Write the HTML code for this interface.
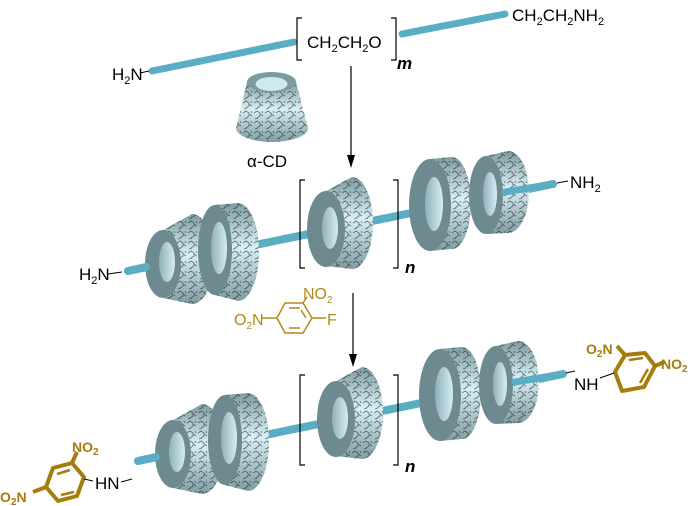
<!DOCTYPE html>
<html><head><meta charset="utf-8"><style>
html,body{margin:0;padding:0;background:#fff}
svg{display:block}
text{font-family:"Liberation Sans",sans-serif}
</style></head><body>
<svg width="696" height="506" viewBox="0 0 696 506" xmlns="http://www.w3.org/2000/svg">
<defs>
<linearGradient id="bd" x1="0" y1="0" x2="0" y2="1">
<stop offset="0" stop-color="#7d9ba2"/><stop offset="0.45" stop-color="#d8f0f6"/><stop offset="1" stop-color="#7f9ca3"/>
</linearGradient>
<linearGradient id="hl" x1="0" y1="0" x2="1" y2="0">
<stop offset="0" stop-color="#8fb0b7"/><stop offset="1" stop-color="#d5eef4"/>
</linearGradient>
<pattern id="tx" width="11" height="10" patternUnits="userSpaceOnUse">
<path d="M1 3 l3 -2 l3 2 l0 3 l-3 2 M7 4 l3 2 M2 9 l3 -1 M9 1 l1 2" fill="none" stroke="#111" stroke-width="0.8"/>
</pattern>
</defs>

<g stroke="#5aaec4" stroke-width="7" stroke-linecap="round" stroke-dasharray="9 2" fill="none">
<line x1="152" y1="71" x2="294" y2="42"/>
<line x1="402" y1="34" x2="505" y2="14"/>
</g>
<text x="112" y="80" font-size="17">H<tspan font-size="11" dy="4">2</tspan><tspan dy="-4">N</tspan></text>
<line x1="140" y1="73" x2="149" y2="71" stroke="#000"/>
<path d="M302 18 h-5 v42 h5 M391 18 h5 v42 h-5" fill="none" stroke="#000" stroke-width="1.2"/>
<text x="307" y="48" font-size="17">CH<tspan font-size="11" dy="4">2</tspan><tspan dy="-4">CH</tspan><tspan font-size="11" dy="4">2</tspan><tspan dy="-4">O</tspan></text>
<text x="397" y="69" font-size="17" font-weight="bold" font-style="italic">m</text>
<text x="512" y="21" font-size="17">CH<tspan font-size="11" dy="4">2</tspan><tspan dy="-4">CH</tspan><tspan font-size="11" dy="4">2</tspan><tspan dy="-4">NH</tspan><tspan font-size="11" dy="4">2</tspan></text>

<path d="M247 82 L236 128 A36 14 0 0 0 308 128 L296 82 Z" fill="url(#bd)"/>
<path d="M247 82 L236 128 A36 14 0 0 0 308 128 L296 82 Z" fill="url(#tx)" opacity="0.55"/>
<ellipse cx="271.5" cy="82" rx="24.5" ry="10" fill="#7c9aa1"/>
<ellipse cx="271.5" cy="84" rx="16" ry="7" fill="#cfe9ef"/>
<text x="247" y="167" font-size="17">α-CD</text>

<line x1="351" y1="66" x2="351" y2="158" stroke="#000" stroke-width="1.2"/>
<path d="M347 155 L351 168 L355 155 Z" fill="#000"/>
<line x1="353" y1="293" x2="353" y2="357" stroke="#000" stroke-width="1.2"/>
<path d="M349 354 L353 367 L357 354 Z" fill="#000"/>

<g stroke="#b38a16" stroke-width="1.5" fill="none">
<path d="M285 303 L303 303 L312 318 L303 333 L285 333 L277 318 Z"/>
<path d="M289 308 L300 308 M300 328 L289 328 M306 318 L301 310"/>
<line x1="303" y1="303" x2="307" y2="297"/>
<line x1="277" y1="318" x2="262" y2="318"/>
<line x1="312" y1="318" x2="326" y2="318"/>
</g>
<g fill="#b38a16" font-size="16">
<text x="303" y="299">NO<tspan font-size="10" dy="4">2</tspan></text>
<text x="234" y="325">O<tspan font-size="10" dy="4">2</tspan><tspan dy="-4">N</tspan></text>
<text x="327" y="325">F</text>
</g>

<g id="chain">
<line x1="128" y1="271" x2="553" y2="184" stroke="#5aaec4" stroke-width="8" stroke-linecap="round" stroke-dasharray="10 2"/>
<g>
<path d="M163 230 L192 214 A22 45 0 0 1 192 304 L163 298 Z" fill="url(#bd)"/>
<path d="M163 230 L192 214 A22 45 0 0 1 192 304 L163 298 Z" fill="url(#tx)" opacity="0.55"/>
<ellipse cx="163" cy="264" rx="18" ry="34" fill="#6d8a90"/>
<ellipse cx="167" cy="262" rx="8" ry="20" fill="url(#hl)"/>
</g>
<g>
<path d="M215 205 L238 203 A21 49 0 0 1 238 301 L215 295 Z" fill="url(#bd)"/>
<path d="M215 205 L238 203 A21 49 0 0 1 238 301 L215 295 Z" fill="url(#tx)" opacity="0.55"/>
<ellipse cx="215" cy="250" rx="17" ry="45" fill="#6d8a90"/>
<ellipse cx="219" cy="248" rx="8" ry="26" fill="url(#hl)"/>
</g>
<g>
<path d="M326 191 L352 177 A21 46 0 0 1 352 269 L326 266 Z" fill="url(#bd)"/>
<path d="M326 191 L352 177 A21 46 0 0 1 352 269 L326 266 Z" fill="url(#tx)" opacity="0.55"/>
<ellipse cx="326" cy="229" rx="19" ry="38" fill="#6d8a90"/>
<ellipse cx="330" cy="228" rx="8" ry="21" fill="url(#hl)"/>
</g>
<g>
<path d="M430 159 L452 157 A19 46 0 0 1 452 249 L430 251 Z" fill="url(#bd)"/>
<path d="M430 159 L452 157 A19 46 0 0 1 452 249 L430 251 Z" fill="url(#tx)" opacity="0.55"/>
<ellipse cx="430" cy="205" rx="21" ry="46" fill="#6d8a90"/>
<ellipse cx="434" cy="204" rx="9" ry="27" fill="url(#hl)"/>
</g>
<g>
<path d="M486 156 L508 151 A21 41 0 0 1 508 233 L486 234 Z" fill="url(#bd)"/>
<path d="M486 156 L508 151 A21 41 0 0 1 508 233 L486 234 Z" fill="url(#tx)" opacity="0.55"/>
<ellipse cx="486" cy="195" rx="17" ry="39" fill="#6d8a90"/>
<ellipse cx="490" cy="194" rx="7" ry="22" fill="url(#hl)"/>
</g>
<line x1="505" y1="192" x2="553" y2="184" stroke="#5aaec4" stroke-width="7" stroke-linecap="round" stroke-dasharray="10 2"/>
<line x1="128" y1="271" x2="146" y2="267" stroke="#5aaec4" stroke-width="8" stroke-linecap="round"/>
</g>
<path d="M305 180 h-5 v88 h5 M393 180 h5 v88 h-5" fill="none" stroke="#000" stroke-width="1.2"/>
<text x="405" y="273" font-size="17" font-weight="bold" font-style="italic">n</text>
<text x="79" y="280" font-size="17">H<tspan font-size="11" dy="4">2</tspan><tspan dy="-4">N</tspan></text>
<line x1="108" y1="274" x2="122" y2="272" stroke="#000"/>
<line x1="557" y1="183" x2="568" y2="181" stroke="#000"/>
<text x="570" y="188" font-size="17">NH<tspan font-size="11" dy="4">2</tspan></text>

<use href="#chain" transform="translate(10,190)"/>
<path d="M305 375 h-5 v90 h5 M393 375 h5 v90 h-5" fill="none" stroke="#000" stroke-width="1.2"/>
<text x="405" y="472" font-size="17" font-weight="bold" font-style="italic">n</text>
<text x="95" y="489" font-size="17">HN</text>
<line x1="121" y1="482" x2="132" y2="479" stroke="#000"/>
<line x1="566" y1="373" x2="575" y2="371" stroke="#000"/>
<text x="574" y="390" font-size="17">NH</text>

<g stroke="#a67c0c" stroke-width="4" fill="none" stroke-linejoin="round">
<path d="M53 468 L72 463 L84 477 L77 496 L58 501 L46 487 Z"/>
<path d="M57 474 L70 470 M74 492 L61 495" stroke-width="2.5"/>
<line x1="72" y1="463" x2="77" y2="452"/>
<line x1="46" y1="487" x2="33" y2="492"/>
<path d="M615 372 L625 355 L645 353 L655 366 L644 387 L622 391 Z"/>
<path d="M629 360 L643 358 M648 369 L640 383" stroke-width="2.5"/>
<line x1="625" y1="355" x2="617" y2="346"/>
<line x1="655" y1="366" x2="664" y2="362"/>
</g>
<line x1="84" y1="479" x2="93" y2="481" stroke="#000"/>
<line x1="600" y1="378" x2="614" y2="373" stroke="#000"/>
<g fill="#a67c0c" font-size="14" font-weight="bold">
<text x="72" y="452">NO<tspan font-size="10" dy="3">2</tspan></text>
<text x="0" y="502">O<tspan font-size="10" dy="3">2</tspan><tspan dy="-3">N</tspan></text>
<text x="586" y="354">O<tspan font-size="10" dy="3">2</tspan><tspan dy="-3">N</tspan></text>
<text x="661" y="369">NO<tspan font-size="10" dy="3">2</tspan></text>
</g>
</svg>
</body></html>
